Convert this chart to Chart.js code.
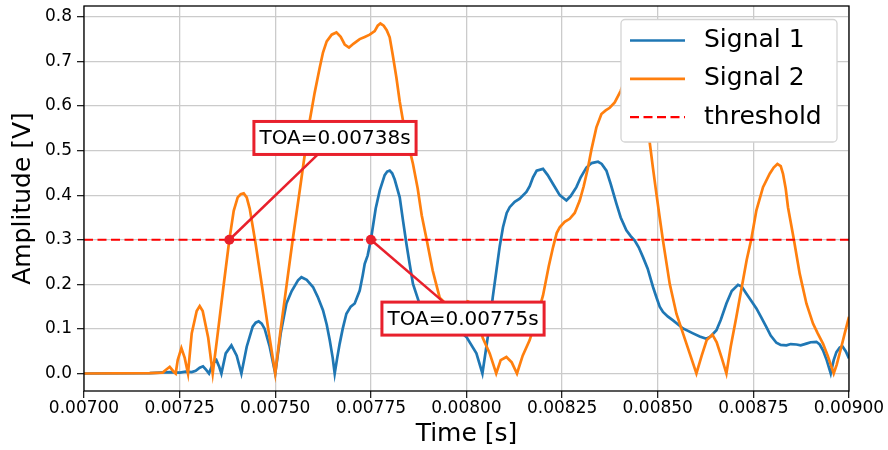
<!DOCTYPE html>
<html>
<head>
<meta charset="utf-8">
<script src="https://cdn.jsdelivr.net/npm/chart.js@4/dist/chart.umd.min.js"></script>
<style>
  html, body { margin: 0; padding: 0; background: #ffffff; }
  #wrap { width: 888px; height: 450px; }
</style>
</head>
<body>
<div id="wrap"><canvas id="c" width="888" height="450"></canvas></div>
<script>
// ---------------- data ----------------
const seriesNames = ['Signal 1', 'Signal 2', 'threshold'];

const s1Time = [0.0070000,0.0071718,0.0071979,0.0072241,0.0072502,0.0072659,0.0072816,0.0072920,0.0073025,0.0073111,0.0073195,0.0073268,0.0073365,0.0073461,0.0073535,0.0073592,0.0073705,0.0073854,0.0073992,0.0074115,0.0074254,0.0074410,0.0074489,0.0074567,0.0074646,0.0074724,0.0074855,0.0075000,0.0075143,0.0075292,0.0075430,0.0075595,0.0075684,0.0075822,0.0075987,0.0076110,0.0076248,0.0076345,0.0076424,0.0076502,0.0076554,0.0076620,0.0076685,0.0076763,0.0076860,0.0076973,0.0077077,0.0077208,0.0077286,0.0077339,0.0077417,0.0077500,0.0077626,0.0077731,0.0077861,0.0077927,0.0077992,0.0078057,0.0078123,0.0078254,0.0078345,0.0078429,0.0078515,0.0078601,0.0078777,0.0079299,0.0079692,0.0079997,0.0080259,0.0080416,0.0080502,0.0080607,0.0080685,0.0080782,0.0080868,0.0080954,0.0081051,0.0081129,0.0081260,0.0081391,0.0081566,0.0081652,0.0081739,0.0081835,0.0082000,0.0082123,0.0082262,0.0082437,0.0082612,0.0082724,0.0082873,0.0082986,0.0083135,0.0083273,0.0083438,0.0083535,0.0083658,0.0083770,0.0083919,0.0084031,0.0084180,0.0084293,0.0084398,0.0084502,0.0084614,0.0084737,0.0084876,0.0084965,0.0085051,0.0085137,0.0085260,0.0085399,0.0085660,0.0085922,0.0086097,0.0086272,0.0086384,0.0086534,0.0086646,0.0086795,0.0086934,0.0087098,0.0087195,0.0087318,0.0087430,0.0087579,0.0087692,0.0087841,0.0087953,0.0088102,0.0088215,0.0088364,0.0088476,0.0088625,0.0088737,0.0088886,0.0088999,0.0089148,0.0089234,0.0089320,0.0089417,0.0089522,0.0089600,0.0089671,0.0089757,0.0089827,0.0089914,0.0090000];
const s1Amp  = [0,0.001,0.002,0.003,0.002,0.004,0.003,0.006,0.013,0.016,0.008,0,0.022,0.030,0.015,0,0.045,0.063,0.040,0,0.060,0.105,0.114,0.117,0.112,0.100,0.060,0,0.090,0.157,0.185,0.209,0.216,0.210,0.194,0.172,0.142,0.110,0.075,0.035,0,0.035,0.067,0.100,0.134,0.150,0.157,0.186,0.220,0.246,0.265,0.300,0.370,0.410,0.445,0.453,0.455,0.449,0.435,0.395,0.340,0.291,0.245,0.201,0.155,0.130,0.105,0.082,0.045,0,0.050,0.112,0.170,0.231,0.285,0.328,0.360,0.373,0.385,0.392,0.407,0.420,0.440,0.455,0.459,0.445,0.425,0.400,0.388,0.398,0.418,0.440,0.462,0.472,0.475,0.470,0.455,0.425,0.381,0.350,0.321,0.308,0.298,0.283,0.261,0.235,0.194,0.171,0.150,0.138,0.128,0.119,0.101,0.090,0.083,0.078,0.083,0.097,0.120,0.157,0.185,0.199,0.195,0.179,0.165,0.146,0.128,0.104,0.085,0.069,0.064,0.063,0.066,0.065,0.063,0.067,0.070,0.071,0.065,0.052,0.030,0,0.030,0.048,0.058,0.061,0.050,0.034];

const s2Time = [0.0070000,0.0071718,0.0072058,0.0072136,0.0072241,0.0072345,0.0072397,0.0072450,0.0072546,0.0072633,0.0072719,0.0072816,0.0072946,0.0073025,0.0073103,0.0073247,0.0073365,0.0073482,0.0073639,0.0073800,0.0073914,0.0074018,0.0074097,0.0074175,0.0074254,0.0074332,0.0074489,0.0074646,0.0074816,0.0075000,0.0075143,0.0075299,0.0075456,0.0075639,0.0075770,0.0075901,0.0076031,0.0076162,0.0076248,0.0076345,0.0076476,0.0076599,0.0076711,0.0076816,0.0076928,0.0077051,0.0077208,0.0077339,0.0077469,0.0077600,0.0077678,0.0077749,0.0077835,0.0077914,0.0077992,0.0078071,0.0078167,0.0078254,0.0078340,0.0078463,0.0078601,0.0078724,0.0078829,0.0078959,0.0079116,0.0079299,0.0079561,0.0079822,0.0080031,0.0080188,0.0080345,0.0080424,0.0080607,0.0080777,0.0080894,0.0081043,0.0081182,0.0081320,0.0081469,0.0081652,0.0081835,0.0082000,0.0082149,0.0082262,0.0082358,0.0082437,0.0082567,0.0082698,0.0082829,0.0082960,0.0083064,0.0083177,0.0083273,0.0083396,0.0083527,0.0083639,0.0083744,0.0083875,0.0084031,0.0084188,0.0084345,0.0084502,0.0084633,0.0084790,0.0084876,0.0084965,0.0085051,0.0085137,0.0085313,0.0085488,0.0085660,0.0085835,0.0086011,0.0086149,0.0086280,0.0086429,0.0086541,0.0086672,0.0086795,0.0086907,0.0087056,0.0087229,0.0087326,0.0087448,0.0087579,0.0087752,0.0087927,0.0088031,0.0088128,0.0088215,0.0088275,0.0088345,0.0088405,0.0088555,0.0088711,0.0088886,0.0089059,0.0089182,0.0089320,0.0089443,0.0089600,0.0089679,0.0089801,0.0089888,0.0090000];
const s2Amp  = [0,0.001,0.002,0.008,0.015,0.004,0,0.030,0.057,0.035,0,0.090,0.140,0.151,0.140,0.080,0,0.080,0.190,0.300,0.365,0.395,0.402,0.404,0.395,0.370,0.290,0.200,0.100,0,0.100,0.200,0.300,0.410,0.490,0.567,0.630,0.686,0.720,0.745,0.760,0.765,0.755,0.738,0.731,0.740,0.750,0.755,0.760,0.768,0.780,0.785,0.780,0.770,0.754,0.715,0.664,0.610,0.567,0.520,0.470,0.415,0.355,0.300,0.231,0.170,0.148,0.150,0.162,0.155,0.110,0.080,0.045,0,0.030,0.037,0.025,0,0.040,0.075,0.125,0.175,0.240,0.283,0.315,0.328,0.340,0.347,0.360,0.388,0.420,0.462,0.505,0.552,0.582,0.590,0.596,0.608,0.634,0.670,0.685,0.660,0.600,0.518,0.460,0.403,0.350,0.298,0.201,0.134,0.090,0.045,0,0.040,0.075,0.087,0.070,0.035,0,0.060,0.127,0.209,0.255,0.302,0.366,0.418,0.448,0.462,0.470,0.465,0.448,0.415,0.373,0.302,0.224,0.157,0.112,0.090,0.067,0.040,0,0.020,0.060,0.090,0.127];

const thresholdTime = [0.007, 0.009];
const thresholdAmp  = [0.3, 0.3];

const toaTime = [0.00738, 0.00775];
const toaAmp  = [0.3, 0.3];
const toaLabelTime = [0.0076562, 0.0079909];
const toaLabelAmp  = [0.5283, 0.1231];

const xTickValues = [0.007, 0.00725, 0.0075, 0.00775, 0.008, 0.00825, 0.0085, 0.00875, 0.009];
const xTickLabels = ['0.00700','0.00725','0.00750','0.00775','0.00800','0.00825','0.00850','0.00875','0.00900'];
const yTickValues = [0, 0.1, 0.2, 0.3, 0.4, 0.5, 0.6, 0.7, 0.8];
const yTickLabels = ['0.0','0.1','0.2','0.3','0.4','0.5','0.6','0.7','0.8'];

// ---------------- styling ----------------
const FONT = "'DejaVu Sans', 'Liberation Sans', sans-serif";
const C_BLUE = '#1f77b4', C_ORANGE = '#ff7f0e', C_RED = '#ff0000', C_ANN = '#e8202c';

const toXY = (xs, ys) => xs.map((x, i) => ({x: x, y: ys[i]}));

const framePlugin = {
  id: 'frame',
  afterDatasetsDraw(chart) {
    const {ctx, chartArea: a} = chart;
    ctx.save();
    ctx.strokeStyle = '#000';
    ctx.lineWidth = 1.3;
    ctx.strokeRect(a.left, a.top, a.right - a.left, a.bottom - a.top);
    ctx.restore();
  }
};

const annotPlugin = {
  id: 'toaAnnot',
  afterDraw(chart) {
    const {ctx, scales: {x, y}} = chart;
    ctx.save();
    for (let i = 0; i < toaTime.length; i++) {
      const px = x.getPixelForValue(toaTime[i]);
      const py = y.getPixelForValue(toaAmp[i]);
      const bx = x.getPixelForValue(toaLabelTime[i]);
      const by = y.getPixelForValue(toaLabelAmp[i]);
      ctx.strokeStyle = C_ANN;
      ctx.lineWidth = 2.5;
      ctx.beginPath(); ctx.moveTo(px, py); ctx.lineTo(bx, by); ctx.stroke();
      ctx.fillStyle = C_ANN;
      ctx.beginPath(); ctx.arc(px, py, 5, 0, Math.PI * 2); ctx.fill();
      const text = 'TOA=' + toaTime[i].toFixed(5) + 's';
      ctx.font = '20px ' + FONT;
      const w = ctx.measureText(text).width + 11;
      const h = 33;
      ctx.fillStyle = '#ffffff';
      ctx.fillRect(bx - w / 2, by - h / 2, w, h);
      ctx.lineWidth = 3;
      ctx.strokeRect(bx - w / 2, by - h / 2, w, h);
      ctx.fillStyle = '#000';
      ctx.textAlign = 'center';
      ctx.textBaseline = 'middle';
      ctx.fillText(text, bx, by + 1);
    }
    ctx.restore();
  }
};

const legendPlugin = {
  id: 'mplLegend',
  afterDraw(chart) {
    const {ctx} = chart;
    const a = chart.chartArea;
    const bw = 216, bh = 122.5;
    const bx = a.right - 12 - bw, by = a.top + 13.5;
    ctx.save();
    ctx.beginPath();
    ctx.roundRect(bx, by, bw, bh, 4);
    ctx.fillStyle = '#ffffff';
    ctx.fill();
    ctx.strokeStyle = '#d4d4d4';
    ctx.lineWidth = 1.3;
    ctx.stroke();
    const items = chart.data.datasets.filter(d => seriesNames.includes(d.label));
    items.sort((p, q) => seriesNames.indexOf(p.label) - seriesNames.indexOf(q.label));
    items.forEach((d, i) => {
      const ry = by + 21 + i * 38.3;
      ctx.strokeStyle = d.borderColor;
      ctx.lineWidth = d.borderWidth;
      ctx.setLineDash(d.borderDash || []);
      ctx.beginPath(); ctx.moveTo(bx + 9, ry); ctx.lineTo(bx + 64, ry); ctx.stroke();
      ctx.setLineDash([]);
      ctx.fillStyle = '#000';
      ctx.font = '25px ' + FONT;
      ctx.textAlign = 'left';
      ctx.textBaseline = 'middle';
      ctx.fillText(d.label, bx + 83, ry);
    });
    ctx.restore();
  }
};

new Chart(document.getElementById('c'), {
  type: 'line',
  data: {
    datasets: [
      { label: seriesNames[0], data: toXY(s1Time, s1Amp), borderColor: C_BLUE, borderWidth: 2.7,
        pointRadius: 0, fill: false, tension: 0, order: 3 },
      { label: seriesNames[1], data: toXY(s2Time, s2Amp), borderColor: C_ORANGE, borderWidth: 2.7,
        pointRadius: 0, fill: false, tension: 0, order: 2 },
      { label: seriesNames[2], data: toXY(thresholdTime, thresholdAmp), borderColor: C_RED, borderWidth: 2.2,
        borderDash: [9, 4.5], pointRadius: 0, fill: false, tension: 0, order: 1 }
    ]
  },
  options: {
    responsive: false,
    devicePixelRatio: 1,
    animation: false,
    parsing: true,
    layout: { padding: { top: 6, right: 39, bottom: 0, left: 0 } },
    plugins: { legend: { display: false }, tooltip: { enabled: false } },
    scales: {
      x: {
        type: 'linear', min: 0.007, max: 0.009,
        afterBuildTicks: s => { s.ticks = xTickValues.map(v => ({value: v})); },
        afterFit: s => { s.height = 59; s.paddingLeft = 0; s.paddingRight = 0; },
        ticks: { autoSkip: false, maxRotation: 0, padding: 0, color: '#000',
                 font: { family: FONT, size: 17 },
                 callback: (v, i) => xTickLabels[i] },
        grid: { color: '#cbcbcb', lineWidth: 1.3, tickLength: 7, tickColor: '#222', tickWidth: 1.3 },
        border: { display: false },
        title: { display: true, text: 'Time [s]', color: '#000',
                 font: { family: FONT, size: 25 }, padding: { top: 0, bottom: 1 } }
      },
      y: {
        type: 'linear', min: -0.0393, max: 0.8243,
        afterBuildTicks: s => { s.ticks = yTickValues.map(v => ({value: v})); },
        afterFit: s => { s.width = 84; s.paddingTop = 0; s.paddingBottom = 0; },
        ticks: { padding: 5, color: '#000', font: { family: FONT, size: 17 },
                 callback: (v, i) => yTickLabels[i] },
        grid: { color: '#cbcbcb', lineWidth: 1.3, tickLength: 7, tickColor: '#222', tickWidth: 1.3 },
        border: { display: false },
        title: { display: true, text: 'Amplitude [V]', color: '#000',
                 font: { family: FONT, size: 25 }, padding: { top: 8, bottom: 0 } }
      }
    }
  },
  plugins: [framePlugin, annotPlugin, legendPlugin]
});
</script>
</body>
</html>
